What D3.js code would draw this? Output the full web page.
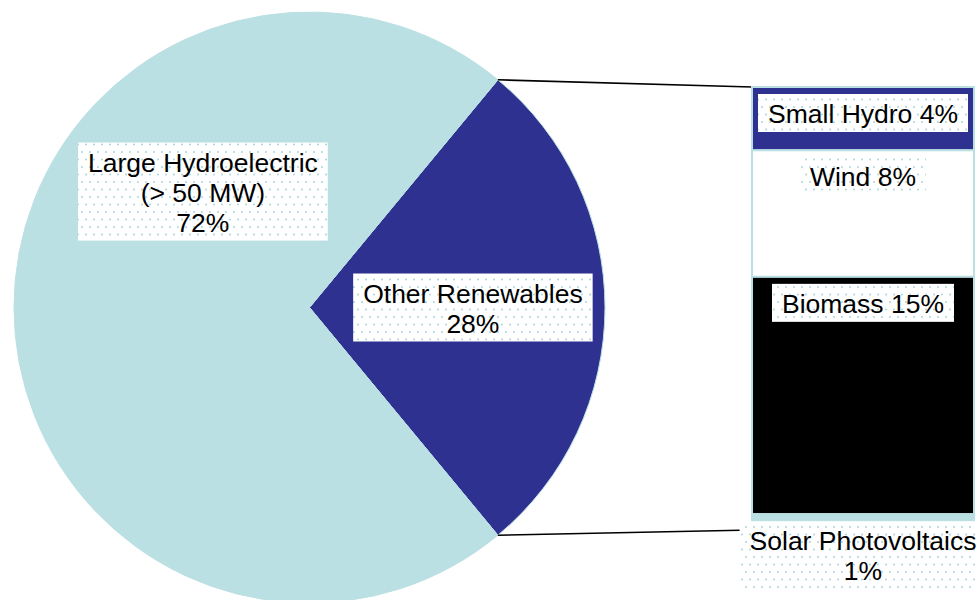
<!DOCTYPE html>
<html>
<head>
<meta charset="utf-8">
<script src="https://cdn.jsdelivr.net/npm/d3@7"></script>
<style>
  body { margin: 0; background: #fff; }
  svg { display: block; font-family: "Liberation Sans", Arial, sans-serif; }
</style>
</head>
<body>
<div id="chart"></div>
<script>
// pie: the split between other renewables and large hydro
const pieNames = ["Other Renewables", "Large Hydroelectric\n(> 50 MW)"];
const pieValues = [28, 72];

// bar: breakdown of the "other renewables" slice, top to bottom
const barNames = ["Small Hydro", "Wind", "Biomass", "Solar Photovoltaics"];
const barValues = [4, 8, 15, 1];

const W = 977, H = 600;
const LIGHT = "#bbe0e3", DARK = "#2e3190";
const pieFill = [DARK, LIGHT];
const barFill = [DARK, "#ffffff", "#000000", LIGHT];

const cx = 309.5, cy = 307.5, r = 295.5;
const fontSize = 26.5, lineH = 30;

const svg = d3.select('#chart').append('svg')
  .attr('width', W)
  .attr('height', H);

// dotted label background
const pat = svg.append('defs').append('pattern')
  .attr('id', 'dots')
  .attr('width', 8).attr('height', 15)
  .attr('patternUnits', 'userSpaceOnUse');
pat.append('rect').attr('width', 8).attr('height', 15).attr('fill', '#fff');
pat.selectAll('circle').data([[2, 2], [6, 9.5]]).join('circle')
  .attr('cx', d => d[0]).attr('cy', d => d[1]).attr('r', 1)
  .attr('fill', '#a9d5da');

// the other slice is centered on the right (3 o'clock)
const otherShare = pieValues[0] / d3.sum(pieValues);
const start = Math.PI / 2 - Math.PI * otherShare;
const pie = d3.pie().sort(null).value(d => d)
  .startAngle(start).endAngle(start + 2 * Math.PI);
const arcs = pie(pieValues);
const arc = d3.arc().innerRadius(0).outerRadius(r);

const pieG = svg.append('g').attr('transform', `translate(${cx},${cy})`);
pieG.selectAll('path').data(arcs).join('path')
  .attr('d', arc)
  .attr('fill', (d, i) => pieFill[i])
  .attr('stroke', LIGHT)
  .attr('stroke-width', 1);

// bar on the right
const barX0 = 752, barX1 = 974;
const y = d3.scaleLinear().domain([0, d3.sum(barValues)]).range([87, 530]);
const stacked = [];
barValues.reduce((acc, v, i) => { stacked.push({ name: barNames[i], value: v, y0: acc, y1: acc + v, i }); return acc + v; }, 0);

// connector lines from slice edges to bar corners
const pTop = d3.pointRadial(arcs[0].startAngle, r);
const pBot = d3.pointRadial(arcs[0].endAngle, r);
svg.append('g').selectAll('line')
  .data([[pTop, y(0)], [pBot, y(d3.sum(barValues))]])
  .join('line')
  .attr('x1', d => cx + d[0][0]).attr('y1', d => cy + d[0][1])
  .attr('x2', barX0).attr('y2', d => d[1])
  .attr('stroke', '#000').attr('stroke-width', 1.6);

svg.append('g').selectAll('rect').data(stacked).join('rect')
  .attr('x', barX0)
  .attr('y', d => y(d.y0))
  .attr('width', barX1 - barX0)
  .attr('height', d => y(d.y1) - y(d.y0))
  .attr('fill', d => barFill[d.i])
  .attr('stroke', LIGHT)
  .attr('stroke-width', 2);

// label with dotted box; top = y of box top, x = center
function drawLabel(lines, x, top) {
  const g = svg.append('g');
  const box = g.append('rect').attr('fill', 'url(#dots)');
  const txt = g.append('text')
    .attr('text-anchor', 'middle')
    .attr('font-size', fontSize)
    .attr('fill', '#000');
  lines.forEach((s, k) => {
    txt.append('tspan').attr('x', x).attr('y', top + 29 + k * lineH).text(s);
  });
  let w = 0;
  txt.selectAll('tspan').each(function () { w = Math.max(w, this.getComputedTextLength()); });
  box.attr('x', x - w / 2 - 10).attr('y', top)
    .attr('width', w + 20)
    .attr('height', 29 + (lines.length - 1) * lineH + 9);
  return g;
}

const pct = v => `${Math.round(v)}%`;

// pie labels: [angle in degrees clockwise from north, radius fraction]
const pieLabelPos = [[90, 0.553], [317.4, 0.533]];
arcs.forEach((a, i) => {
  const lines = pieNames[i].split('\n').concat(pct(pieValues[i]));
  const p = d3.pointRadial(pieLabelPos[i][0] * Math.PI / 180, r * pieLabelPos[i][1]);
  const hBox = 29 + (lines.length - 1) * lineH + 9;
  drawLabel(lines, cx + p[0], cy + p[1] - hBox / 2);
});

// bar labels sit near the top of each segment
const measure = svg.append('text').attr('font-size', fontSize).attr('visibility', 'hidden');
stacked.forEach(d => {
  const one = `${d.name} ${pct(d.value)}`;
  measure.text(one);
  const lines = measure.node().getComputedTextLength() > (barX1 - barX0 - 20) ? [d.name, pct(d.value)] : [one];
  drawLabel(lines, (barX0 + barX1) / 2, y(d.y0) + 7);
});
measure.remove();
</script>
</body>
</html>
